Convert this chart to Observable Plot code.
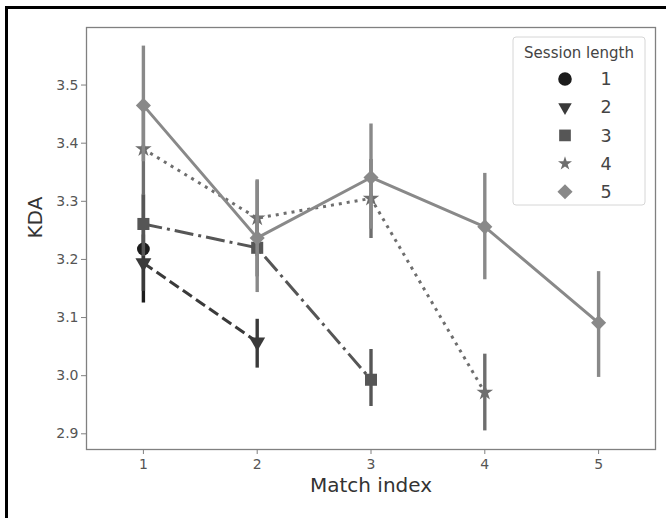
<!DOCTYPE html>
<html>
<head>
<meta charset="utf-8">
<script src="https://cdn.jsdelivr.net/npm/d3@7"></script>
<script src="https://cdn.jsdelivr.net/npm/@observablehq/plot@0.6"></script>
<style>
  html, body { margin: 0; padding: 0; background: #fff; }
  #wrap { position: relative; width: 666px; height: 518px; overflow: hidden; font-family: "DejaVu Sans", sans-serif; }
  #border { position: absolute; left: 5px; top: 6px; right: -10px; bottom: -10px; border-left: 3px solid #000; border-top: 3px solid #000; pointer-events: none; }
  #chart { position: absolute; left: 0; top: 0; }
</style>
</head>
<body>
<div id="wrap">
  <div id="chart"></div>
  <div id="border"></div>
</div>
<script>
// ---- data ----
const matchIndex = [1, 2, 3, 4, 5];
const sessionLengths = [1, 2, 3, 4, 5];

const kdaS1 = [3.218];
const loS1  = [3.125];
const hiS1  = [3.310];

const kdaS2 = [3.194, 3.058];
const loS2  = [3.145, 3.013];
const hiS2  = [3.242, 3.097];

const kdaS3 = [3.261, 3.220, 2.993];
const loS3  = [3.205, 3.170, 2.947];
const hiS3  = [3.312, 3.270, 3.045];

const kdaS4 = [3.390, 3.271, 3.305, 2.971];
const loS4  = [3.310, 3.205, 3.236, 2.905];
const hiS4  = [3.470, 3.335, 3.372, 3.037];

const kdaS5 = [3.465, 3.237, 3.341, 3.256, 3.091];
const loS5  = [3.368, 3.143, 3.252, 3.165, 2.997];
const hiS5  = [3.567, 3.337, 3.433, 3.348, 3.179];

const yTicks = [2.9, 3.0, 3.1, 3.2, 3.3, 3.4, 3.5];

// ---- styles ----
const colors  = ["#1c1c1c", "#3a3a3a", "#565656", "#6e6e6e", "#898989"];
const dashes  = [null, "11,5", "19,5,3,5", "3,5", null];
const symbols = ["circle", "triangle", "square", "star", "diamond2"];
const rotates = [0, 180, 0, 0, 0];
const radii   = [6.4, 5.9, 6.8, 5.2, 6.8];
const legendRadii = [6.8, 5.0, 6.6, 4.4, 6.8];

const means = [kdaS1, kdaS2, kdaS3, kdaS4, kdaS5];
const los = [loS1, loS2, loS3, loS4, loS5];
const his = [hiS1, hiS2, hiS3, hiS4, hiS5];

const series = sessionLengths.map((s, k) =>
  means[k].map((v, i) => ({session: s, match: matchIndex[i], kda: v, lo: los[k][i], hi: his[k][i]}))
);

const marks = [];
series.forEach((rows, k) => {
  marks.push(Plot.ruleX(rows, {x: "match", y1: "lo", y2: "hi", stroke: colors[k], strokeWidth: 3.4}));
  if (rows.length > 1) {
    marks.push(Plot.line(rows, {x: "match", y: "kda", stroke: colors[k], strokeWidth: 3,
      strokeDasharray: dashes[k] || undefined, strokeLinecap: "butt"}));
  }
  marks.push(Plot.dot(rows, {x: "match", y: "kda", symbol: () => symbols[k], fill: colors[k],
    r: radii[k], rotate: rotates[k], stroke: "none"}));
});

const chart = Plot.plot({
  width: 666,
  height: 518,
  marginLeft: 86,
  marginRight: 11,
  marginTop: 27,
  marginBottom: 69,
  style: {fontFamily: "DejaVu Sans, sans-serif", fontSize: "14px", color: "#555", background: "transparent"},
  x: {domain: [0.5, 5.5]},
  y: {domain: [2.873, 3.599]},
  symbol: {type: "identity"},
  marks: [
    Plot.axisX(matchIndex, {tickSize: 5, tickPadding: 5, label: null, tickFormat: d3.format("d"), stroke: "#808080", fill: "#555", fontSize: 14}),
    Plot.axisY(yTicks, {tickSize: 5, tickPadding: 3, label: null, tickFormat: d3.format(".1f"), stroke: "#808080", fill: "#555", fontSize: 14}),
    ...marks,
    Plot.frame({stroke: "#808080", strokeWidth: 1.3}),
    Plot.text(["KDA"], {frameAnchor: "left", dx: -51, rotate: -90, fontSize: 20, fill: "#333"}),
    Plot.text(["Match index"], {frameAnchor: "bottom", dy: 42, fontSize: 20, fill: "#333"})
  ]
});
document.getElementById("chart").appendChild(chart);

// ---- legend ----
const svg = d3.select(chart);
const lg = svg.append("g").attr("transform", "translate(513,37)");
lg.append("rect").attr("width", 132).attr("height", 168).attr("rx", 3)
  .attr("fill", "rgba(255,255,255,0.85)").attr("stroke", "#d6d6d6");
lg.append("text").attr("x", 66).attr("y", 21).attr("text-anchor", "middle")
  .attr("font-size", 15).attr("fill", "#444").attr("font-family", "DejaVu Sans, sans-serif")
  .text("Session length");
const symMap = {circle: d3.symbolCircle, triangle: d3.symbolTriangle, square: d3.symbolSquare, star: d3.symbolStar, diamond2: d3.symbolDiamond2};
sessionLengths.forEach((s, k) => {
  const y = 42 + k * 28.2;
  lg.append("path")
    .attr("d", d3.symbol(symMap[symbols[k]], Math.PI * legendRadii[k] * legendRadii[k])())
    .attr("transform", `translate(52,${y}) rotate(${rotates[k]})`)
    .attr("fill", colors[k]);
  lg.append("text").attr("x", 93).attr("y", y).attr("dy", "0.35em").attr("text-anchor", "middle")
    .attr("font-size", 17.5).attr("fill", "#444").attr("font-family", "DejaVu Sans, sans-serif")
    .text(String(s));
});
</script>
</body>
</html>
